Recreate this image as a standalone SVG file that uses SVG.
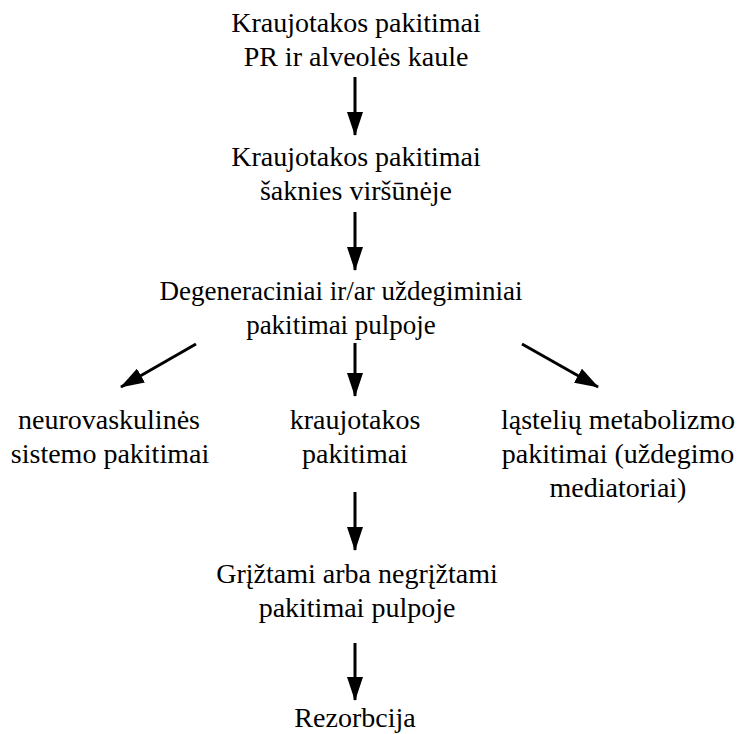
<svg xmlns="http://www.w3.org/2000/svg" width="739" height="734" viewBox="0 0 739 734">
<style>
text{font-family:'Liberation Serif','Times New Roman',serif;font-size:28px;fill:#000;text-anchor:middle}
.s27{font-size:27px}
.c{stroke:#000;stroke-width:3;fill:none}
</style>
<defs>
<marker id="ah" markerUnits="userSpaceOnUse" markerWidth="24" markerHeight="16" refX="23" refY="8" viewBox="0 0 24 16" orient="auto">
<path d="M0,0 L24,8 L0,16 Z" fill="#000"/>
</marker>
</defs>
<rect width="739" height="734" fill="#fff"/>
<g id="connectors">
<line class="c" x1="355" y1="77" x2="355" y2="135" marker-end="url(#ah)"/>
<line class="c" x1="355" y1="212" x2="355" y2="270" marker-end="url(#ah)"/>
<line class="c" x1="196" y1="344" x2="121" y2="387" marker-end="url(#ah)"/>
<line class="c" x1="355" y1="343" x2="355" y2="396" marker-end="url(#ah)"/>
<line class="c" x1="522" y1="344" x2="598" y2="387" marker-end="url(#ah)"/>
<line class="c" x1="355" y1="492" x2="355" y2="550" marker-end="url(#ah)"/>
<line class="c" x1="355" y1="643" x2="355" y2="700" marker-end="url(#ah)"/>
</g>
<g id="n1"><text x="356" y="32">Kraujotakos pakitimai</text><text x="356" y="66">PR ir alveolės kaule</text></g>
<g id="n2"><text x="356" y="166">Kraujotakos pakitimai</text><text x="356" y="200">šaknies viršūnėje</text></g>
<g id="n3" class="s27"><text class="s27" x="341" y="300">Degeneraciniai ir/ar uždegiminiai</text><text class="s27" x="341" y="334">pakitimai pulpoje</text></g>
<g id="n4"><text x="109" y="429">neurovaskulinės</text><text x="110" y="463">sistemo pakitimai</text></g>
<g id="n5"><text x="355" y="429">kraujotakos</text><text x="355" y="463">pakitimai</text></g>
<g id="n6"><text x="618" y="429">ląstelių metabolizmo</text><text x="618" y="463">pakitimai (uždegimo</text><text x="618" y="497">mediatoriai)</text></g>
<g id="n7"><text x="357" y="583">Grįžtami arba negrįžtami</text><text x="357" y="617">pakitimai pulpoje</text></g>
<g id="n8"><text x="355" y="727">Rezorbcija</text></g>
</svg>
